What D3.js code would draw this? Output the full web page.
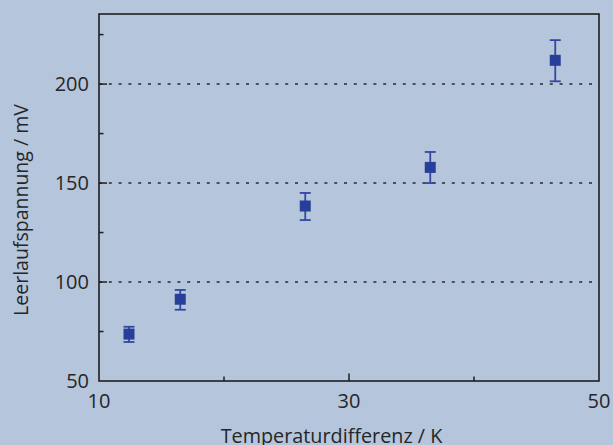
<!DOCTYPE html>
<html><head><meta charset="utf-8">
<script src="https://cdn.jsdelivr.net/npm/d3@7"></script>
<style>html,body{margin:0;padding:0;background:#b5c5dc;}svg{display:block;}</style>
</head><body>
<script>
const xValues = [12.4, 16.5, 26.5, 36.5, 46.5];
const yValues = [73.7, 91.3, 138.4, 157.9, 212.0];
const yErrHigh = [77.4, 96.0, 145.0, 165.7, 222.2];
const yErrLow = [69.7, 86.0, 131.3, 150.0, 201.4];
const xTicks = [10, 30, 50];
const xMinorTicks = [20, 40];
const yTicks = [50, 100, 150, 200];
const yMinorTicks = [75, 125, 175, 225];
const gridValues = [100, 150, 200];
const xLabel = "Temperaturdifferenz / K";
const yLabel = "Leerlaufspannung / mV";

const W = 613, H = 445;
const m = {left: 99, right: 14, top: 14, bottom: 64};
const svg = d3.select("body").append("svg").attr("width", W).attr("height", H);
svg.append("rect").attr("width", W).attr("height", H).attr("fill", "#b5c5dc");

const x = d3.scaleLinear().domain([10, 50]).range([m.left, W - m.right]);
const y = d3.scaleLinear().domain([50, 235.4]).range([H - m.bottom, m.top]);
const font = "'Open Sans', sans-serif";
const ink = "#1e1e1e";
const txt = "#262626";

// grid
svg.append("g").selectAll("line").data(gridValues).join("line")
  .attr("x1", x(10)).attr("x2", x(50))
  .attr("y1", d => y(d)).attr("y2", d => y(d))
  .attr("stroke", "#2a2a2a").attr("stroke-width", 1.5)
  .attr("stroke-dasharray", "3,6.8");

// ticks (inward)
const tk = svg.append("g").attr("stroke", ink).attr("stroke-width", 1.5);
tk.selectAll(".ym").data(yTicks.slice(1)).join("line")
  .attr("x1", x(10)).attr("x2", x(10) + 8).attr("y1", d => y(d)).attr("y2", d => y(d));
tk.selectAll(".yn").data(yMinorTicks).join("line")
  .attr("x1", x(10)).attr("x2", x(10) + 4.5).attr("y1", d => y(d)).attr("y2", d => y(d));
tk.selectAll(".xm").data(xTicks.slice(1, -1)).join("line")
  .attr("x1", d => x(d)).attr("x2", d => x(d)).attr("y1", y(50)).attr("y2", y(50) - 7.5);
tk.selectAll(".xn").data(xMinorTicks).join("line")
  .attr("x1", d => x(d)).attr("x2", d => x(d)).attr("y1", y(50)).attr("y2", y(50) - 4.5);

// frame
svg.append("rect").attr("x", x(10)).attr("y", y(235.4))
  .attr("width", x(50) - x(10)).attr("height", y(50) - y(235.4))
  .attr("fill", "none").attr("stroke", ink).attr("stroke-width", 1.6);

// tick labels
svg.append("g").selectAll("text").data(yTicks).join("text")
  .attr("x", x(10) - 10).attr("y", d => y(d)).attr("dy", "0.36em")
  .attr("text-anchor", "end").attr("font-family", font).attr("font-size", 20)
  .attr("fill", txt).text(d => d);
svg.append("g").selectAll("text").data(xTicks).join("text")
  .attr("x", d => x(d)).attr("y", y(50) + 27)
  .attr("text-anchor", "middle").attr("font-family", font).attr("font-size", 20)
  .attr("fill", txt).text(d => d);

// axis labels
svg.append("text").attr("x", 331.5).attr("y", 442.5)
  .attr("text-anchor", "middle").attr("font-family", font).attr("font-size", 19.8)
  .attr("fill", txt).text(xLabel);
svg.append("text").attr("transform", `translate(28,210) rotate(-90)`)
  .attr("text-anchor", "middle").attr("font-family", font).attr("font-size", 19.5)
  .attr("fill", txt).text(yLabel);

// error bars
const data = xValues.map((v, i) => ({x: v, y: yValues[i], hi: yErrHigh[i], lo: yErrLow[i]}));
const eb = svg.append("g").attr("stroke", "#3347a0").attr("stroke-width", 1.8);
eb.selectAll(".v").data(data).join("line")
  .attr("x1", d => x(d.x)).attr("x2", d => x(d.x)).attr("y1", d => y(d.hi)).attr("y2", d => y(d.lo));
eb.selectAll(".c1").data(data).join("line")
  .attr("x1", d => x(d.x) - 5.5).attr("x2", d => x(d.x) + 5.5).attr("y1", d => y(d.hi)).attr("y2", d => y(d.hi));
eb.selectAll(".c2").data(data).join("line")
  .attr("x1", d => x(d.x) - 5.5).attr("x2", d => x(d.x) + 5.5).attr("y1", d => y(d.lo)).attr("y2", d => y(d.lo));

// markers
svg.append("g").selectAll("rect").data(data).join("rect")
  .attr("x", d => x(d.x) - 5.5).attr("y", d => y(d.y) - 5.5)
  .attr("width", 11).attr("height", 11).attr("fill", "#283f99");
</script>
</body></html>
